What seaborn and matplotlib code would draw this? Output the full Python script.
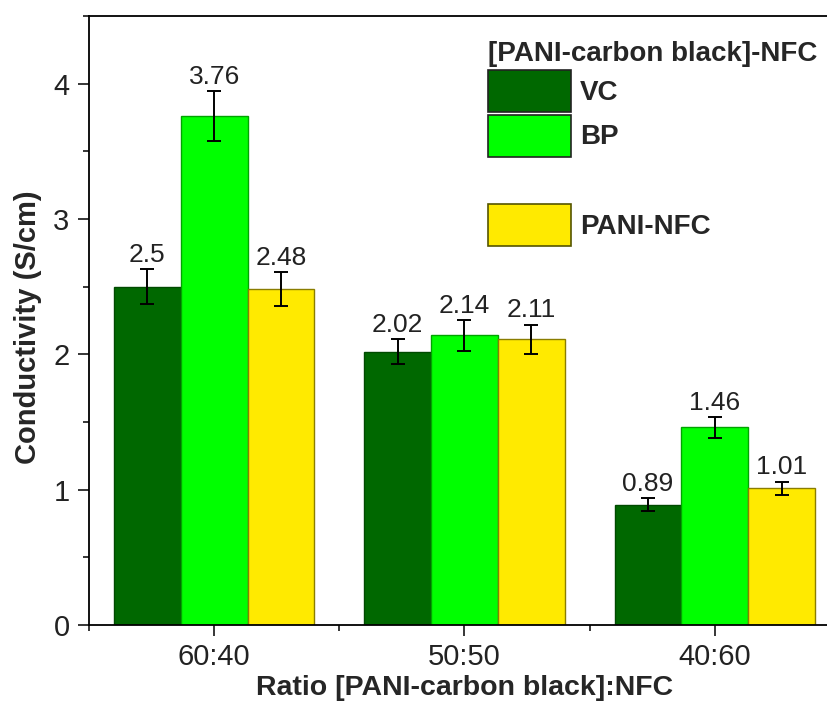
import pandas as pd
import numpy as np
import matplotlib
matplotlib.use("Agg")
import matplotlib.pyplot as plt
import seaborn as sns
from matplotlib.patches import Patch
from matplotlib.ticker import FixedLocator, MultipleLocator

# ----------------------------------------------------------
# data
ratios = ["60:40", "50:50", "40:60"]
series = ["VC", "BP", "PANI-NFC"]
vc_vals = [2.50, 2.02, 0.89]
bp_vals = [3.76, 2.14, 1.46]
pani_vals = [2.48, 2.11, 1.01]
vc_err = [0.13, 0.095, 0.045]
bp_err = [0.185, 0.115, 0.075]
pani_err = [0.125, 0.11, 0.05]

colors = {"VC": "#006800", "BP": "#00ff00", "PANI-NFC": "#ffea00"}
edges = {"VC": "#004a00", "BP": "#00a400", "PANI-NFC": "#8a7d00"}

df = pd.DataFrame({
    "ratio": ratios * 3,
    "series": np.repeat(series, 3),
    "cond": vc_vals + bp_vals + pani_vals,
    "err": vc_err + bp_err + pani_err,
})

# ----------------------------------------------------------
sns.set_style("ticks")
plt.rcParams["font.family"] = ["Liberation Sans", "DejaVu Sans"]

W, H = 828, 704
fig = plt.figure(figsize=(W / 100, H / 100), dpi=100)
ax = fig.add_axes([89 / W, 79 / H, (840 - 89) / W, (625 - 16) / H])

sns.barplot(data=df, x="ratio", y="cond", hue="series", order=ratios,
            hue_order=series, palette=colors, errorbar=None, width=0.8,
            gap=0, saturation=1, legend=False, ax=ax)

for cont, s in zip(ax.containers, series):
    sub = df[df["series"] == s].set_index("ratio").loc[ratios]
    xs = [p.get_x() + p.get_width() / 2 for p in cont]
    for p in cont:
        p.set_edgecolor(edges[s])
        p.set_linewidth(1.0)
    ax.errorbar(xs, sub["cond"], yerr=sub["err"], fmt="none", ecolor="black",
                elinewidth=1.4, capsize=5, capthick=1.4, zorder=5)
    for x, v, e in zip(xs, sub["cond"], sub["err"]):
        ax.annotate(f"{v:g}", (x, v + e), xytext=(0, 1.5), textcoords="offset points",
                    ha="center", va="bottom", fontsize=19, color="#222222")

ax.set_xlim(-0.5, 2.5)
ax.set_ylim(0, 4.5)
ax.yaxis.set_major_locator(FixedLocator([0, 1, 2, 3, 4]))
ax.yaxis.set_minor_locator(MultipleLocator(0.5))
ax.xaxis.set_minor_locator(FixedLocator([-0.5, 0.5, 1.5, 2.5]))
ax.tick_params(which="major", direction="out", length=8, width=1.3,
               labelsize=21, top=False, right=False, labelcolor="#222222")
ax.tick_params(axis="y", which="major", pad=6)
ax.tick_params(axis="x", which="major", pad=5)
ax.tick_params(which="minor", direction="out", length=4.5, width=1.3,
               top=False, right=False)
for sp in ax.spines.values():
    sp.set_linewidth(1.3)
    sp.set_color("black")

ax.set_xlabel("Ratio [PANI-carbon black]:NFC", fontsize=20.5, fontweight="bold",
              labelpad=3)
ax.set_ylabel("Conductivity (S/cm)", fontsize=21, fontweight="bold")
ax.yaxis.set_label_coords((42 - 89) / 751, (625 - 327) / 609)

handles = [Patch(facecolor=colors["VC"], edgecolor="#222222", lw=1.2),
           Patch(facecolor=colors["BP"], edgecolor="#222222", lw=1.2),
           Patch(facecolor="none", edgecolor="none"),
           Patch(facecolor=colors["PANI-NFC"], edgecolor="#555500", lw=1.2)]
labels = ["VC", "BP", " ", "PANI-NFC"]
leg = ax.legend(handles, labels, title="[PANI-carbon black]-NFC",
                loc="upper left", bbox_to_anchor=(488 / W, 1 - 41 / H),
                bbox_transform=fig.transFigure, frameon=False,
                prop={"size": 20, "weight": "bold"},
                title_fontproperties={"size": 20, "weight": "bold"},
                handlelength=3.0, handleheight=1.95, labelspacing=0.1,
                handletextpad=0.3, borderpad=0, borderaxespad=0,
                alignment="left")

fig.savefig("out.png", dpi=100)
